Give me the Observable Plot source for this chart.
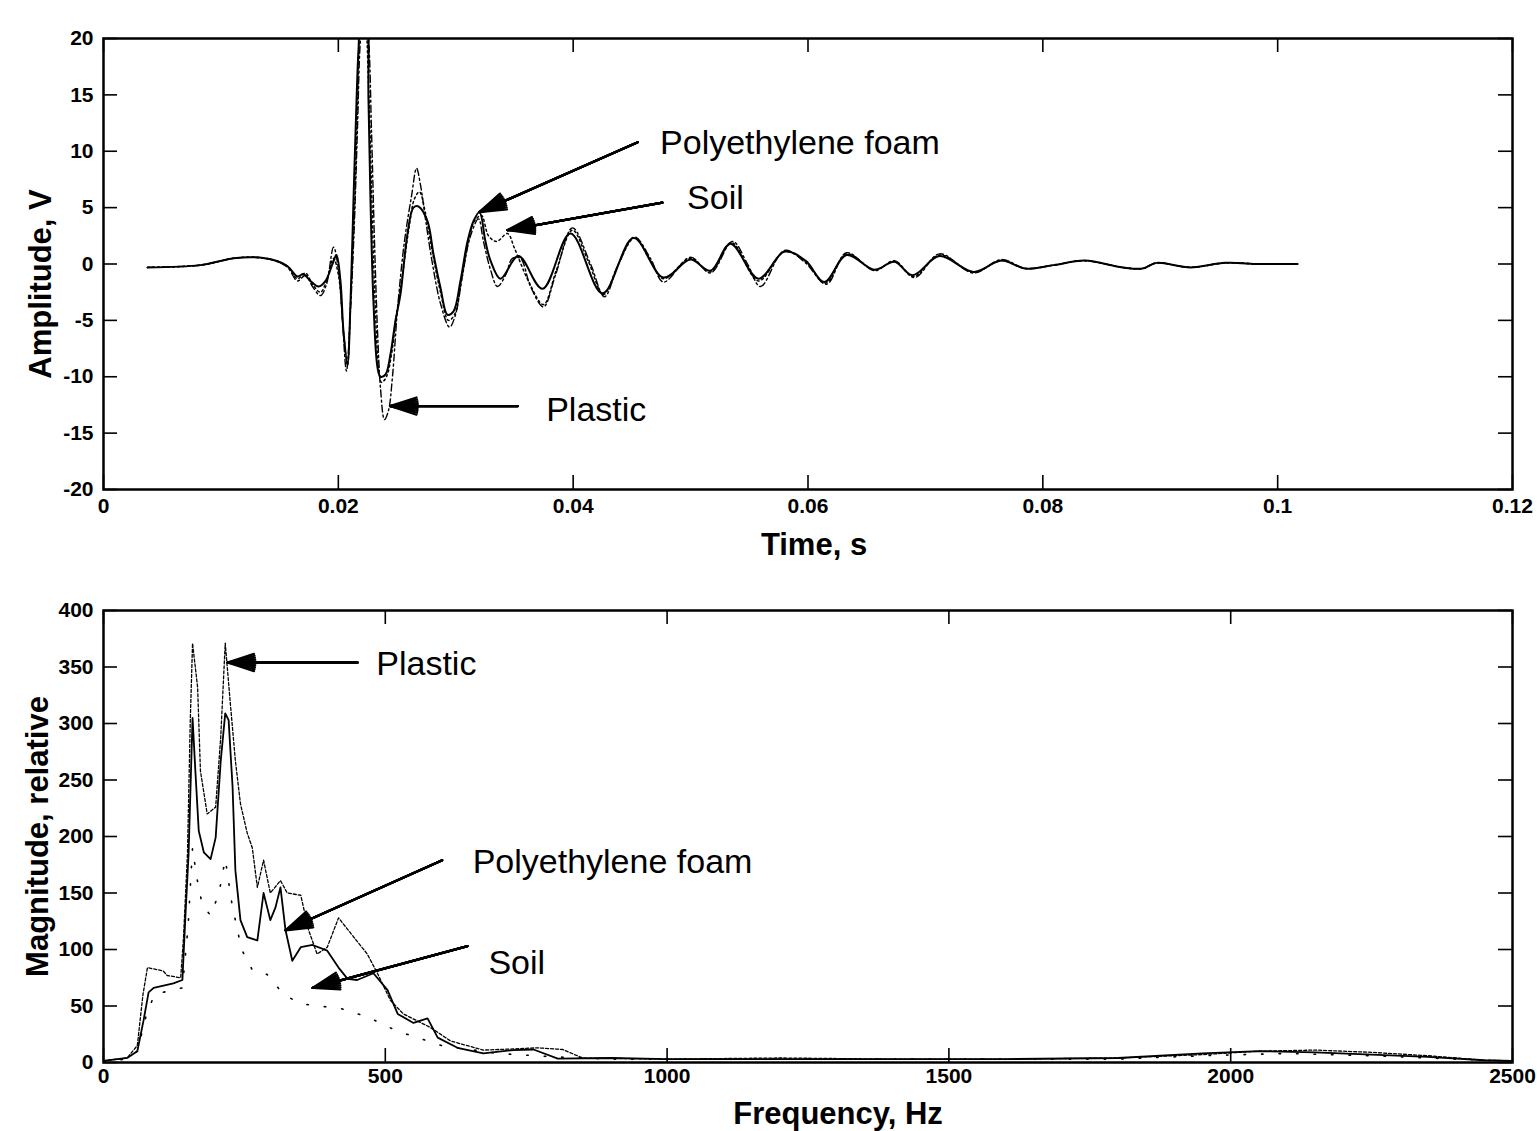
<!DOCTYPE html>
<html><head><meta charset="utf-8">
<script src="https://cdn.jsdelivr.net/npm/d3@7"></script>
<script src="https://cdn.jsdelivr.net/npm/@observablehq/plot@0.6"></script>
<style>
body{margin:0;background:#fff;}
#fig{position:relative;width:1537px;height:1131px;background:#fff;overflow:hidden}
#fig svg{position:absolute;left:0;}
</style></head><body><div id="fig"></div>
<script>
// ---------- Time-domain data (top panel) ----------
const timeTicks = [0, 0.02, 0.04, 0.06, 0.08, 0.1, 0.12];
const ampTicks = [-20, -15, -10, -5, 0, 5, 10, 15, 20];

const foamT = [0.00375,0.00826,0.01107,0.01277,0.01448,0.01567,0.01652,0.01703,0.01763,0.01831,0.01891,0.01950,0.01984,0.02018,0.02044,0.02078,0.02104,0.02129,0.02155,0.02172,0.02197,0.02231,0.02257,0.02274,0.02299,0.02334,0.02359,0.02402,0.02444,0.02487,0.02529,0.02589,0.02640,0.02683,0.02759,0.02810,0.02870,0.02930,0.02981,0.03040,0.03100,0.03151,0.03202,0.03253,0.03296,0.03381,0.03534,0.03739,0.03977,0.04250,0.04514,0.04769,0.04999,0.05169,0.05340,0.05578,0.05800,0.05979,0.06140,0.06328,0.06566,0.06737,0.06890,0.07120,0.07409,0.07648,0.07852,0.08091,0.08355,0.08678,0.08849,0.08968,0.09257,0.09555,0.09845,0.10169];
const foamV = [-0.3,-0.1,0.5,0.6,0.35,-0.2,-1.1,-0.9,-1.5,-2.0,-1.5,0.0,0.8,-1.5,-6.0,-8.8,-3.3,5.6,14.5,19,22,22,14.5,5.6,-3.3,-9.2,-10,-9.8,-8,-5,-2.7,2.7,5.0,5.1,3.8,0.9,-2.1,-4.5,-4.2,-1.5,2.0,3.8,4.6,2.0,0.3,-1.3,0.7,-2.2,2.7,-2.6,2.3,-1.2,0.4,-0.6,1.8,-1.3,1.1,0.3,-1.6,0.8,-0.5,0.2,-1.0,0.7,-0.7,0.3,-0.4,-0.1,0.3,-0.3,-0.4,0.1,-0.3,0.1,0,0];

const plasticT = [0.00375,0.00826,0.01107,0.01277,0.01448,0.01567,0.01652,0.01720,0.01780,0.01848,0.01899,0.01959,0.02001,0.02035,0.02069,0.02104,0.02138,0.02163,0.02189,0.02223,0.02257,0.02282,0.02308,0.02334,0.02359,0.02393,0.02427,0.02461,0.02504,0.02563,0.02623,0.02666,0.02700,0.02742,0.02802,0.02870,0.02947,0.02998,0.03057,0.03126,0.03194,0.03236,0.03296,0.03355,0.03424,0.03483,0.03551,0.03637,0.03747,0.03849,0.03994,0.04148,0.04267,0.04386,0.04522,0.04658,0.04769,0.04999,0.05169,0.05357,0.05485,0.05595,0.05800,0.05979,0.06157,0.06328,0.06566,0.06737,0.06907,0.07120,0.07409,0.07648,0.07852,0.08091,0.08355,0.08678,0.08849,0.08968,0.09257,0.09555,0.09845,0.10169];
const plasticV = [-0.3,-0.1,0.5,0.6,0.35,-0.3,-1.5,-1.0,-2.0,-2.8,-1.8,1.5,-0.5,-5,-9.5,-4,4,12,20,23,20,12,2,-6,-11,-13.8,-13,-10,-4,2,6,8.5,7,4,0,-3.5,-5.6,-4.5,-1,2.5,4,2,-0.5,-2,-1,0.5,0.5,-2,-3.8,-1,3.2,0,-2.9,0,2.4,0.5,-1.6,0.6,-0.8,2.0,0,-2,1.2,0.1,-1.8,1.0,-0.6,0.3,-1.2,0.9,-0.8,0.4,-0.4,-0.1,0.3,-0.3,-0.4,0.1,-0.3,0.1,0,0];

const soilT = [0.00375,0.00826,0.01107,0.01277,0.01448,0.01567,0.01652,0.01720,0.01780,0.01848,0.01899,0.01959,0.02001,0.02044,0.02078,0.02104,0.02138,0.02163,0.02189,0.02223,0.02257,0.02282,0.02308,0.02342,0.02368,0.02410,0.02453,0.02495,0.02546,0.02606,0.02649,0.02691,0.02742,0.02802,0.02870,0.02938,0.02989,0.03049,0.03108,0.03160,0.03219,0.03279,0.03347,0.03441,0.03500,0.03619,0.03747,0.03858,0.03994,0.04130,0.04258,0.04386,0.04522,0.04658,0.04769,0.04999,0.05169,0.05348,0.05578,0.05800,0.05979,0.06149,0.06328,0.06566,0.06737,0.06898,0.07120,0.07409,0.07648,0.07852,0.08091,0.08355,0.08678,0.08849,0.08968,0.09257,0.09555,0.09845,0.10169];
const soilV = [-0.3,-0.1,0.5,0.6,0.35,-0.2,-1.3,-0.8,-1.8,-2.5,-1.5,0.5,-1.0,-6,-9,-3.5,5,14,21,22,16,7,-2,-9,-10.5,-10,-8,-4.5,-1,3.5,5.8,6.4,4.5,1,-2.5,-5,-4.5,-1.5,2,3.8,4.3,2.5,2.0,2.7,1.4,-1.5,-3.6,-0.5,3.0,0.2,-2.7,0,2.3,0.3,-1.3,0.5,-0.7,1.9,-1.5,1.1,0.2,-1.7,0.9,-0.5,0.2,-1.1,0.8,-0.7,0.3,-0.4,-0.1,0.3,-0.3,-0.4,0.1,-0.3,0.1,0,0];

// annotations (top)
const topNoteText = ["Polyethylene foam", "Soil", "Plastic"];
const topNoteT = [0.0474, 0.0497, 0.0377];
const topNoteV = [10.7, 5.8, -13.0];
const topArrowT1 = [0.0455, 0.0476, 0.0353];
const topArrowV1 = [10.8, 5.45, -12.6];
const topArrowT2 = [0.0320, 0.0344, 0.0244];
const topArrowV2 = [4.6, 3.0, -12.6];

// ---------- Spectrum data (bottom panel) ----------
const freqTicks = [0, 500, 1000, 1500, 2000, 2500];
const magTicks = [0, 50, 100, 150, 200, 250, 300, 350, 400];

const foamF = [0,42,60,71,80,89,124,140,145,151,158,163,169,178,190,199,208,216,222,229,234,243,255,273,284,296,305,314,323,335,350,371,397,417,433,450,479,504,522,550,575,593,628,674,727,763,806,900,1000,1200,1400,1600,1800,1950,2050,2150,2250,2350,2450,2500];
const foamM = [1.5,4,10,37,62,66,70,73,126,185,305,258,205,186,180,199,267,309,303,244,170,126,111,108,150,126,137,155,117,90,102,104,99,84,74,73,79,64,43,35,39,22,13,8,11,11.5,3.5,4,3,3,3,3,4,8,10,9,7,5,2,1.5];

const plasticF = [0,42,60,70,78,106,113,137,142,149,154,158,167,172,184,199,208,216,225,234,243,255,264,273,284,296,314,326,350,364,379,397,417,444,468,486,509,532,580,616,674,727,770,815,850,1000,1200,1400,1600,1800,1950,2050,2150,2250,2350,2450,2500];
const plasticM = [1.5,4,15,60,84,81,77,75,111,185,303,371,332,258,220,226,288,371,318,267,229,203,190,155,179,150,161,150,148,117,96,102,128,111,96,79,55,43,31,19,11,12,13,11.5,4,3,4,3,3,4,7,10,11,9,6,2,1.5];

const soilF = [0,40,60,75,90,120,140,150,158,165,175,190,205,216,228,245,265,290,320,350,380,420,470,520,600,700,800,900,1000,1200,1400,1600,1800,1950,2100,2250,2400,2500];
const soilM = [1,3,10,40,60,64,66,120,190,165,140,130,150,180,140,100,81,78,60,52,50,48,40,28,15,8,5,3,3,3,3,3,3,6,8,6,3,1];

// annotations (bottom)
const botNoteText = ["Plastic", "Polyethylene foam", "Soil"];
const botNoteF = [484, 655, 683];
const botNoteM = [353, 177, 88];
const botArrowF1 = [451, 601, 646];
const botArrowM1 = [354, 179, 103];
const botArrowF2 = [220, 323, 371];
const botArrowM2 = [354, 117, 66];

// ---------- drawing ----------
const FONT = '"Liberation Sans", Arial, Helvetica, sans-serif';
const W = 1537, ML = 103, MR = 25, TICK = 14;

function frameTicks(xt, yt, fw, fh) {
  return [
    Plot.tickX(xt, {x: d => d, insetTop: fh - TICK, strokeWidth: 1.6}),
    Plot.tickX(xt, {x: d => d, insetBottom: fh - TICK, strokeWidth: 1.6}),
    Plot.tickY(yt, {y: d => d, insetRight: fw - TICK, strokeWidth: 1.6}),
    Plot.tickY(yt, {y: d => d, insetLeft: fw - TICK, strokeWidth: 1.6})
  ];
}
function arrowMarks(n, x1, y1, x2, y2) {
  const idx = d3.range(n);
  const marks = [Plot.link(idx, {x1, y1, x2, y2, strokeWidth: 2})];
  for (const a of [36, 28, 20, 12, 5]) {
    marks.push(Plot.arrow(idx, {x1, y1, x2, y2, headLength: 19, headAngle: a, strokeWidth: 2.2}));
  }
  return marks;
}
function axisLabels(xl, yl, xdx, xdy, ydx, ydy) {
  return [
    Plot.text([xl], {text: d => d, frameAnchor: "bottom", dx: xdx, dy: xdy, textAnchor: "middle", lineAnchor: "middle", fontSize: 31, fontWeight: "bold"}),
    Plot.text([yl], {text: d => d, frameAnchor: "left", dx: ydx, dy: ydy, rotate: -90, textAnchor: "middle", lineAnchor: "middle", fontSize: 31, fontWeight: "bold"})
  ];
}

// Top plot
const topH = 575, topMT = 38, topMB = 86;
const topFH = topH - topMT - topMB, FW = W - ML - MR;
const topPlot = Plot.plot({
  width: W, height: topH,
  marginLeft: ML, marginRight: MR, marginTop: topMT, marginBottom: topMB,
  style: {fontFamily: FONT, fontSize: "21px", fontWeight: "bold", background: "white", color: "black", overflow: "visible"},
  x: {domain: [0, 0.12]},
  y: {domain: [-20, 20]},
  marks: [
    Plot.line(soilV, {x: soilT, y: soilV, stroke: "black", strokeWidth: 1.5, strokeDasharray: "2,3", curve: "catmull-rom", clip: true}),
    Plot.line(plasticV, {x: plasticT, y: plasticV, stroke: "black", strokeWidth: 1.4, strokeDasharray: "7,3,2,3", curve: "catmull-rom", clip: true}),
    Plot.line(foamV, {x: foamT, y: foamV, stroke: "black", strokeWidth: 2, curve: "catmull-rom", clip: true}),
    Plot.frame({strokeWidth: 2.5}),
    ...frameTicks(timeTicks, ampTicks, FW, topFH),
    Plot.axisX(timeTicks, {tickSize: 0, tickPadding: 9, tickFormat: d => String(d), label: null, fontSize: 21}),
    Plot.axisY(ampTicks, {tickSize: 0, tickPadding: 10, tickFormat: d => String(d), label: null, fontSize: 21}),
    ...axisLabels("Time, s", "Amplitude, V", 6, 56, -62, 20),
    ...arrowMarks(3, topArrowT1, topArrowV1, topArrowT2, topArrowV2),
    Plot.text(topNoteText, {x: topNoteT, y: topNoteV, text: d => d, textAnchor: "start", lineAnchor: "middle", fontSize: 34, fontWeight: "normal"})
  ]
});

// Bottom plot
const botH = 556, botMT = 35, botMB = 69;
const botFH = botH - botMT - botMB;
const botPlot = Plot.plot({
  width: W, height: botH,
  marginLeft: ML, marginRight: MR, marginTop: botMT, marginBottom: botMB,
  style: {fontFamily: FONT, fontSize: "21px", fontWeight: "bold", background: "white", color: "black", overflow: "visible"},
  x: {domain: [0, 2500]},
  y: {domain: [0, 400]},
  marks: [
    Plot.line(soilM, {x: soilF, y: soilM, stroke: "black", strokeWidth: 1.6, strokeDasharray: "1.5,16", clip: true}),
    Plot.line(plasticM, {x: plasticF, y: plasticM, stroke: "black", strokeWidth: 1.3, strokeDasharray: "3,2", clip: true}),
    Plot.line(foamM, {x: foamF, y: foamM, stroke: "black", strokeWidth: 1.8, clip: true}),
    Plot.frame({strokeWidth: 2.5}),
    ...frameTicks(freqTicks, magTicks, FW, botFH),
    Plot.axisX(freqTicks, {tickSize: 0, tickPadding: 6, tickFormat: d => String(d), label: null, fontSize: 21}),
    Plot.axisY(magTicks, {tickSize: 0, tickPadding: 10, tickFormat: d => String(d), label: null, fontSize: 21}),
    ...axisLabels("Frequency, Hz", "Magnitude, relative", 30, 52, -65, 0),
    ...arrowMarks(3, botArrowF1, botArrowM1, botArrowF2, botArrowM2),
    Plot.text(botNoteText, {x: botNoteF, y: botNoteM, text: d => d, textAnchor: "start", lineAnchor: "middle", fontSize: 34, fontWeight: "normal"})
  ]
});

topPlot.style.top = "0px";
botPlot.style.top = "575px";
const fig = document.getElementById("fig");
fig.appendChild(topPlot);
fig.appendChild(botPlot);
</script></body></html>
